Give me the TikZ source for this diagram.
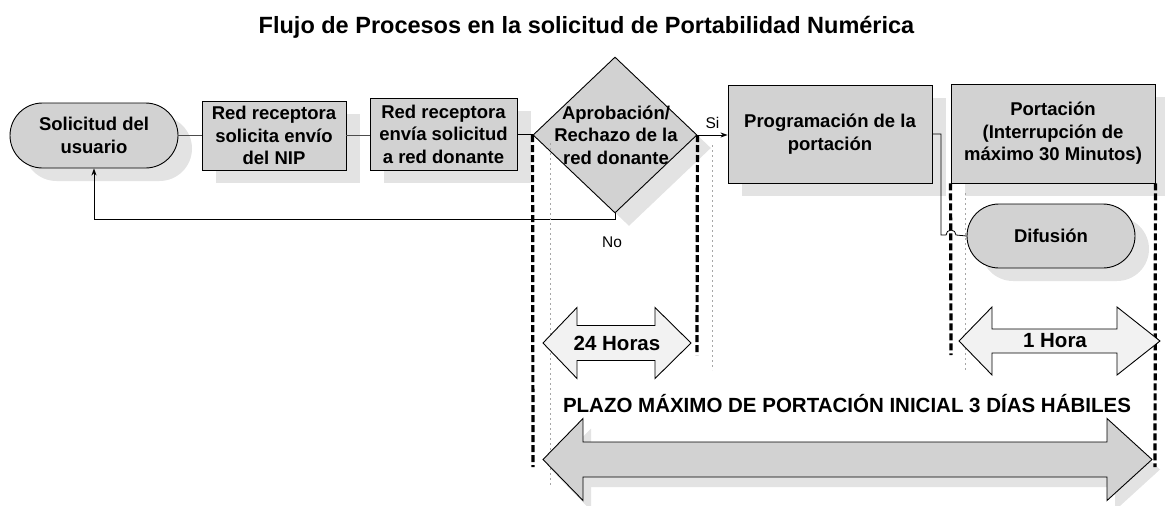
\documentclass[tikz,border=0pt]{standalone}
\usepackage{fontspec}
\setmainfont{Liberation Sans}
\usetikzlibrary{shapes.geometric,shapes.misc,shadows,arrows.meta}
\begin{document}
\begin{tikzpicture}[x=1pt,y=-1pt,
  shad/.style={drop shadow={shadow xshift=14pt, shadow yshift=-13pt, fill=gray!22, opacity=1}},
  box/.style={draw, line width=0.9pt, fill=gray!35, inner sep=0pt, align=center,
              font=\fontsize{18.5}{22.5}\selectfont\bfseries, shad},
  term/.style={box, rounded rectangle},
  conn/.style={line width=0.8pt},
  bigdash/.style={line width=3.2pt, dash pattern=on 7pt off 3pt},
  thindot/.style={line width=0.7pt, gray!70, dash pattern=on 2pt off 3pt},
  tarrow/.style={draw, line width=0.9pt, fill=gray!10},
  barrow/.style={draw, line width=0.9pt, fill=gray!35},
  bshadow/.style={fill=gray!22},
  lbl/.style={font=\fontsize{15.5}{18}\selectfont},
  big/.style={font=\fontsize{20.5}{24}\selectfont\bfseries},
  ]
\useasboundingbox (0,0) rectangle (1165,506);

% title
\node[anchor=base, font=\fontsize{23.5}{28}\selectfont\bfseries] (title) at (586.5,33)
  {Flujo de Procesos en la solicitud de Portabilidad Numérica};

% big arrow shadow
\fill[bshadow, shift={(8,10)}] (543,459.5) -- (583,418.5) -- (583,442) -- (1107,442) -- (1107,418.5)
  -- (1152,459.5) -- (1107,500.5) -- (1107,477) -- (583,477) -- (583,500.5) -- cycle;

% nodes
\node[term, minimum width=168, minimum height=65] (sol) at (94,135.5) {Solicitud del\\usuario};
\node[box, minimum width=144, minimum height=69] (b1) at (274,135.5) {Red receptora\\solicita envío\\del NIP};
\node[box, minimum width=147, minimum height=72] (b2) at (443.5,134) {Red receptora\\envía solicitud\\a red donante};
\node[diamond, draw, line width=0.9pt, fill=gray!35, inner sep=0pt, minimum width=164,
      minimum height=156, shad] (dia) at (615,135) {};
\node[align=center, font=\fontsize{18.5}{22.5}\selectfont\bfseries] (diat) at (616,135)
  {Aprobación/\\Rechazo de la\\red donante};
\node[box, minimum width=204, minimum height=98] (prog) at (830,134) {Programación de la\\portación};
\node[box, minimum width=204, minimum height=99] (port) at (1053,133.5)
  {Portación\\(Interrupción de\\máximo 30 Minutos)};
\node[term, minimum width=168, minimum height=64] (dif) at (1051,236) {Difusión};

% connectors
\draw[conn, gray!60!black] (sol.east) -- (b1.west);
\draw[conn, gray!60!black] (b1.east) -- (b1.east -| b2.west);
\draw[conn] (b2.east) -- (b2.east -| dia.west);
\draw[conn, -{Stealth[length=7pt,width=5pt]}] (dia.east) -- (dia.east -| prog.west)
  node[midway, above=3pt, lbl] (si) {Si};
\draw[conn, -{Stealth[length=7pt,width=5pt]}] (dia.south) -- ++(0,6) -| (sol.south);
\node[lbl] (no) at (612,242) {No};

\coordinate (turn) at (941,235);
\coordinate (hopL) at (946,235);
\draw[conn] (prog.east) -| (turn) -- (hopL) arc[start angle=180, end angle=360, radius=5] -- (dif.west);

% time-span lines
\draw[thindot] (550,143) -- (550,487);
\draw[thindot] (712,145) -- (712,370);
\draw[thindot] (965,193) -- (965,370);
\coordinate (d1) at (533,467);
\coordinate (d2) at (697,355);
\coordinate (d3) at (951,355);
\coordinate (d4) at (1155,467);
\draw[bigdash] (dia.west) -- (d1);
\draw[bigdash] (dia.east) -- (d2);
\draw[bigdash] (port.south west) -- (d3);
\draw[bigdash] (port.south east) -- (d4);

% span arrows
\draw[tarrow] (543,343) -- (577,307.5) -- (577,325.5) -- (655,325.5) -- (655,307.5) -- (691,343)
  -- (655,378.5) -- (655,360.5) -- (577,360.5) -- (577,378.5) -- cycle;
\node[big] (t24) at (617,343) {24 Horas};

\draw[tarrow] (959,341) -- (992,307) -- (992,329) -- (1117,329) -- (1117,307) -- (1160,341)
  -- (1117,375) -- (1117,353) -- (992,353) -- (992,375) -- cycle;
\node[big] (t1) at (1055,341) {1 Hora};

\node[big] (plazo) at (847,404) {PLAZO MÁXIMO DE PORTACIÓN INICIAL 3 DÍAS HÁBILES};

\draw[barrow] (543,459.5) -- (583,418.5) -- (583,442) -- (1107,442) -- (1107,418.5)
  -- (1152,459.5) -- (1107,500.5) -- (1107,477) -- (583,477) -- (583,500.5) -- cycle;
\end{tikzpicture}
\end{document}
